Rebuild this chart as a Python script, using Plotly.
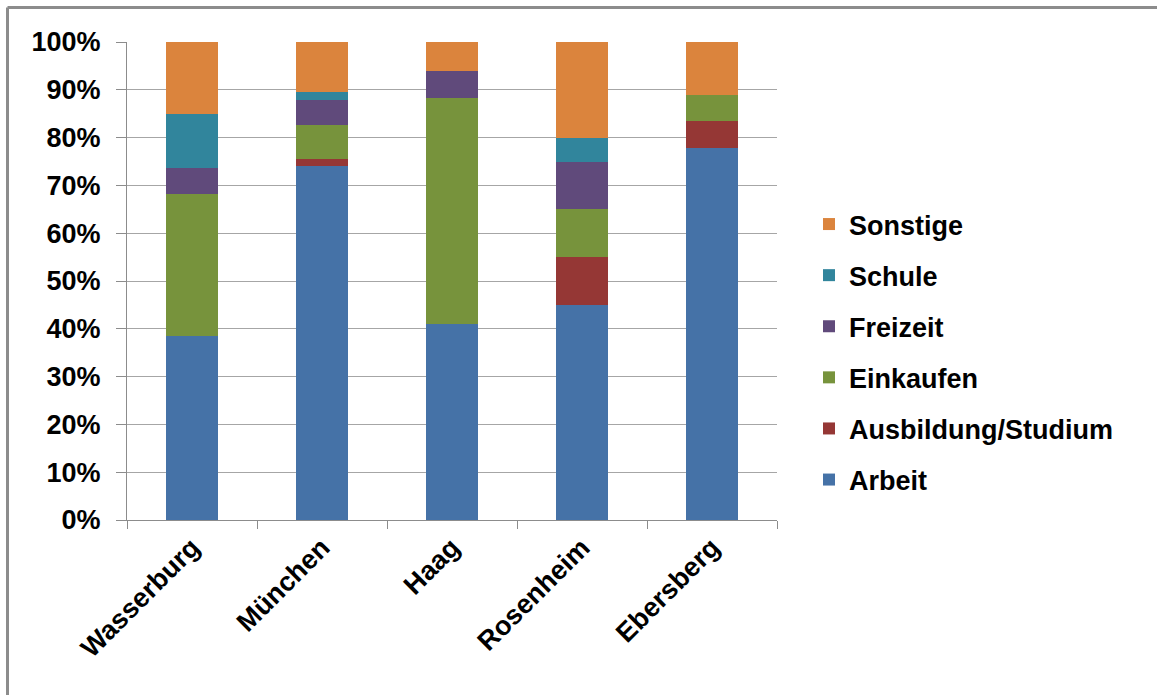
import plotly.graph_objects as go

# Orte (Kategorien) und Anteile der Wegezwecke in Prozent
orte = ["Wasserburg", "München", "Haag", "Rosenheim", "Ebersberg"]

arbeit = [38.4, 74.0, 41.0, 45.0, 77.8]
ausbildung = [0.0, 1.6, 0.0, 10.0, 5.6]
einkaufen = [29.8, 7.1, 47.3, 10.0, 5.6]
freizeit = [5.5, 5.2, 5.7, 10.0, 0.0]
schule = [11.3, 1.6, 0.0, 5.0, 0.0]
sonstige = [15.0, 10.5, 6.0, 20.0, 11.1]

y_ticks = [0, 10, 20, 30, 40, 50, 60, 70, 80, 90, 100]
y_tick_labels = ["0%", "10%", "20%", "30%", "40%", "50%", "60%", "70%", "80%", "90%", "100%"]

serien = [
    ("Arbeit", arbeit, "#4572A7"),
    ("Ausbildung/Studium", ausbildung, "#953735"),
    ("Einkaufen", einkaufen, "#77933C"),
    ("Freizeit", freizeit, "#604A7B"),
    ("Schule", schule, "#31859C"),
    ("Sonstige", sonstige, "#DB843D"),
]

FONT = dict(family="Liberation Sans, Arial, sans-serif", size=27, color="#000000", weight="bold")

W, H = 1157, 695
ML, MR, MT, MB = 127, 380, 42, 175
PW, PH = W - ML - MR, H - MT - MB

fig = go.Figure()
n = len(serien)
for i, (name, vals, color) in enumerate(serien):
    fig.add_trace(go.Bar(
        x=orte, y=vals, name=name, legendgroup=name,
        legendrank=n - i,
        marker=dict(color=color, line=dict(width=0)),
    ))

# Rahmen links und oben (Koordinaten relativ zur Zeichenfläche)
def px_x(px):
    return (px - ML) / PW

def px_y(py):
    return 1 - (py - MT) / PH

frame = dict(color="#8c8c8c", width=3)
fig.add_shape(type="line", xref="paper", yref="paper",
              x0=px_x(7.5), x1=px_x(7.5), y0=px_y(7.5), y1=px_y(700), line=frame)
fig.add_shape(type="line", xref="paper", yref="paper",
              x0=px_x(7.5), x1=px_x(1160), y0=px_y(7.5), y1=px_y(7.5), line=frame)

fig.update_layout(
    width=W, height=H,
    margin=dict(l=ML, r=MR, t=MT, b=MB),
    paper_bgcolor="white", plot_bgcolor="white",
    barmode="stack", bargap=0.6,
    font=FONT,
    showlegend=True,
    legend=dict(
        x=px_x(809), xanchor="left",
        y=px_y(200), yanchor="top",
        traceorder="grouped",
        tracegroupgap=13,
        font=FONT,
        bgcolor="rgba(0,0,0,0)",
        itemclick=False,
    ),
    xaxis=dict(
        type="category",
        tickangle=-45,
        ticks="outside", tickson="boundaries", ticklen=8,
        tickcolor="#8c8c8c", tickwidth=1,
        showline=True, linecolor="#8c8c8c", linewidth=1,
        showgrid=False,
        tickfont=FONT,
    ),
    yaxis=dict(
        range=[0, 100],
        tickmode="array",
        tickvals=y_ticks,
        ticktext=y_tick_labels,
        ticks="outside", ticklen=10, tickcolor="#8c8c8c", tickwidth=1,
        showline=True, linecolor="#8c8c8c", linewidth=1,
        showgrid=True, gridcolor="#a6a6a6", gridwidth=1,
        zeroline=False,
        ticklabelstandoff=10,
        tickfont=FONT,
    ),
)

fig.write_html("out.html")
